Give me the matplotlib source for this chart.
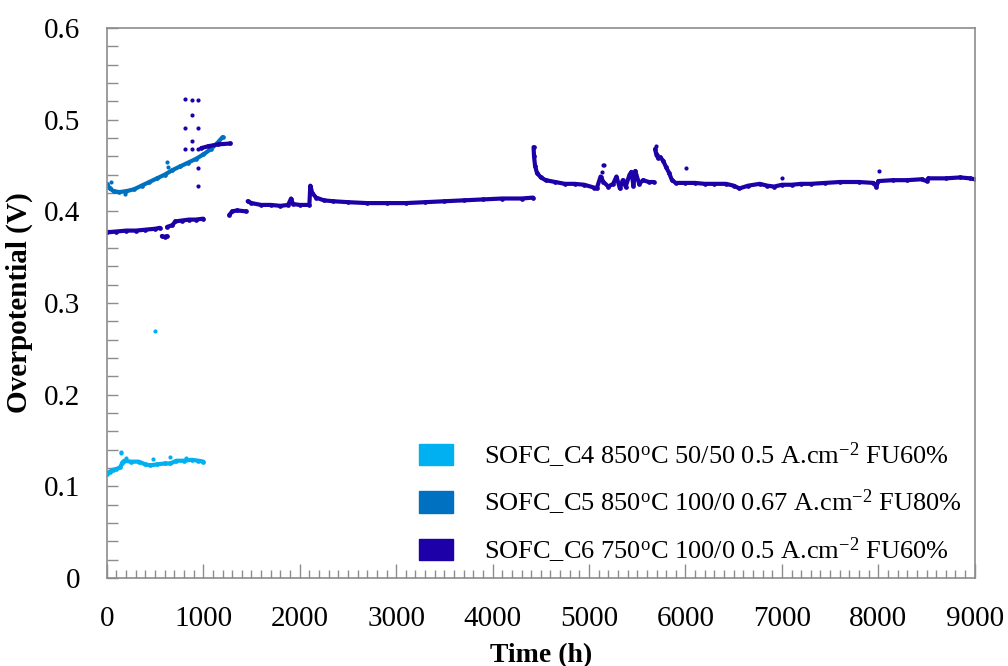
import matplotlib
matplotlib.use("Agg")
import numpy as np
import matplotlib.pyplot as plt
from matplotlib.patches import Patch
from matplotlib.ticker import MultipleLocator

plt.rcParams['font.family'] = ['Liberation Serif', 'DejaVu Serif']
plt.rcParams['mathtext.fontset'] = 'custom'
plt.rcParams['mathtext.rm'] = 'Liberation Serif'
plt.rcParams['mathtext.it'] = 'Liberation Serif:italic'
plt.rcParams['mathtext.bf'] = 'Liberation Serif:bold'

nan = np.nan

# SOFC_C4 850oC 50/50
c4_t = [0, 30, 60, 100, 140, 160, 180, 250, 330, 400, 450, 520, 600, 660, 720, 800, 880, 950, 1000]
c4_v = [0.113, 0.116, 0.118, 0.119, 0.121, 0.126, 0.128, 0.127, 0.127, 0.124, 0.123, 0.124,
        0.125, 0.125, 0.128, 0.128, 0.129, 0.128, 0.127]
c4_out_t = [145, 150, 200, 480, 650, 820, 500]
c4_out_v = [0.138, 0.136, 0.131, 0.130, 0.132, 0.131, 0.270]

# SOFC_C5 850oC 100/0
c5_t = [0, 30, 70, 130, 200, 280, 360, 440, 520, 600, 680, 760, 840, 920, 1000, 1080, 1150, 1200]
c5_v = [0.430, 0.425, 0.422, 0.421, 0.422, 0.424, 0.428, 0.432, 0.436, 0.440, 0.445, 0.449,
        0.453, 0.457, 0.462, 0.468, 0.475, 0.481]
c5_out_t = [40, 190, 620, 630]
c5_out_v = [0.432, 0.419, 0.454, 0.448]

# SOFC_C6 750oC 100/0 (nan = gap in the record)
c6_t = [0, 100, 200, 300, 400, 500, 550, nan,
        570, 600, 620, nan,
        625, 680, 710, 780, 850, 920, 1000, nan,
        980, 1050, 1150, 1280, nan,
        1270, 1300, 1350, 1440, nan,
        1460, 1500, 1600, 1700, 1800, 1880, 1910, 1930, 2000, 2100, 2110, 2130, 2170, 2250,
        2350, 2500, 2700, 2900, 3100, 3300, 3500, 3700, 3900, 4100, 4300, 4420, nan,
        4425, 4430, 4440, 4460, 4500, 4550, 4650, 4750, 4850, 4950, 5050, 5080, 5120, 5150,
        5200, 5250, 5285, 5320, 5350, 5380, 5420, 5440, 5460, 5480, 5520, 5560, 5620, 5670, nan,
        5685, 5700, 5720, 5740, 5770, 5800, 5830, 5860, 5900, 6000, 6100, 6200, 6300, 6420,
        6500, 6560, 6650, 6770, 6850, 6920, 7000, 7100, 7200, 7300, 7450, 7600, 7800, 7950,
        7980, 8000, 8150, 8300, 8450, 8500, 8520, 8700, 8850, 8950, 9000]
c6_v = [0.377, 0.378, 0.379, 0.379, 0.380, 0.381, 0.382, nan,
        0.373, 0.372, 0.373, nan,
        0.383, 0.385, 0.389, 0.390, 0.391, 0.391, 0.392, nan,
        0.469, 0.471, 0.473, 0.474, nan,
        0.396, 0.400, 0.401, 0.400, nan,
        0.411, 0.409, 0.407, 0.407, 0.406, 0.407, 0.414, 0.408, 0.407, 0.407, 0.428, 0.420,
        0.415, 0.412, 0.411, 0.410, 0.409, 0.409, 0.409, 0.410, 0.411, 0.412, 0.413, 0.414,
        0.414, 0.415, nan,
        0.470, 0.460, 0.450, 0.442, 0.437, 0.434, 0.432, 0.430, 0.430, 0.429, 0.426, 0.425,
        0.438, 0.432, 0.427, 0.430, 0.438, 0.425, 0.434, 0.427, 0.440, 0.443, 0.428, 0.444,
        0.430, 0.434, 0.432, 0.432, nan,
        0.468, 0.461, 0.458, 0.459, 0.455, 0.448, 0.442, 0.434, 0.431, 0.431, 0.431, 0.430,
        0.430, 0.430, 0.428, 0.425, 0.428, 0.430, 0.428, 0.427, 0.429, 0.429, 0.430, 0.430,
        0.431, 0.432, 0.432, 0.431, 0.427, 0.433, 0.434, 0.434, 0.435, 0.433, 0.436, 0.436,
        0.437, 0.436, 0.435]
c6_out_t = [810, 880, 950, 880, 810, 950, 880, 810, 880, 950, 950, 950,
            5130, 5147, 5160, 5690, 5690, 6005, 6997, 8010]
c6_out_v = [0.5225, 0.521, 0.521, 0.505, 0.4905, 0.4905, 0.477, 0.4675, 0.4675, 0.4675, 0.447, 0.4276,
            0.443, 0.4505, 0.4505, 0.4715, 0.464, 0.447, 0.436, 0.4443]

labels = [r'SOFC_C4 850$^{\mathrm{o}}$C 50/50 0.5 A.cm$^{-2}$ FU60%',
          r'SOFC_C5 850$^{\mathrm{o}}$C 100/0 0.67 A.cm$^{-2}$ FU80%',
          r'SOFC_C6 750$^{\mathrm{o}}$C 100/0 0.5 A.cm$^{-2}$ FU60%']
colors = ['#00B0F0', '#0070C0', '#1E00A8']

fig = plt.figure(figsize=(10.08, 6.66), dpi=100)
ax = fig.add_axes([0.106, 0.132, 0.861, 0.826])

series = [(c4_t, c4_v, c4_out_t, c4_out_v),
          (c5_t, c5_v, c5_out_t, c5_out_v),
          (c6_t, c6_v, c6_out_t, c6_out_v)]
for (t, v, ot, ov), col in zip(series, colors):
    ax.plot(t, v, '-o', color=col, lw=3.0, ms=3.4, mew=0, solid_capstyle='round')
    ax.plot(ot, ov, 'o', color=col, ms=3.0, mew=0, ls='none')

ax.set_xlim(0, 9000)
ax.set_ylim(0, 0.6)
ax.xaxis.set_major_locator(MultipleLocator(1000))
ax.xaxis.set_minor_locator(MultipleLocator(100))
ax.yaxis.set_major_locator(MultipleLocator(0.1))
ax.yaxis.set_minor_locator(MultipleLocator(0.02))
ax.yaxis.set_major_formatter(plt.FuncFormatter(lambda y, p: '0' if abs(y) < 1e-9 else f'{y:.1f}'))

for s in ax.spines.values():
    s.set_color('#8c8c8c')
    s.set_linewidth(1.2)
ax.tick_params(axis='both', which='both', direction='in', color='#8c8c8c', width=1)
ax.tick_params(axis='x', which='major', length=10, labelsize=21, pad=20)
ax.tick_params(axis='x', which='minor', length=6)
ax.tick_params(axis='y', which='major', length=8, labelsize=21, pad=19)
ax.tick_params(axis='y', which='minor', length=8)

ax.set_xlabel('Time (h)', fontsize=20, fontweight='bold')
ax.xaxis.set_label_coords(0.5, -0.118)
ax.set_ylabel('Overpotential (V)', fontsize=21, fontweight='bold')
ax.yaxis.set_label_coords(-0.085, 0.5)

handles = [Patch(facecolor=c, edgecolor=c) for c in colors]
fig.legend(handles, labels, loc='upper left', bbox_to_anchor=(0.403, 0.359),
           frameon=False, fontsize=19, handlelength=1.29, handleheight=0.87,
           handletextpad=1.17, labelspacing=0.69, borderpad=0)

fig.savefig('out.png', dpi=100)
